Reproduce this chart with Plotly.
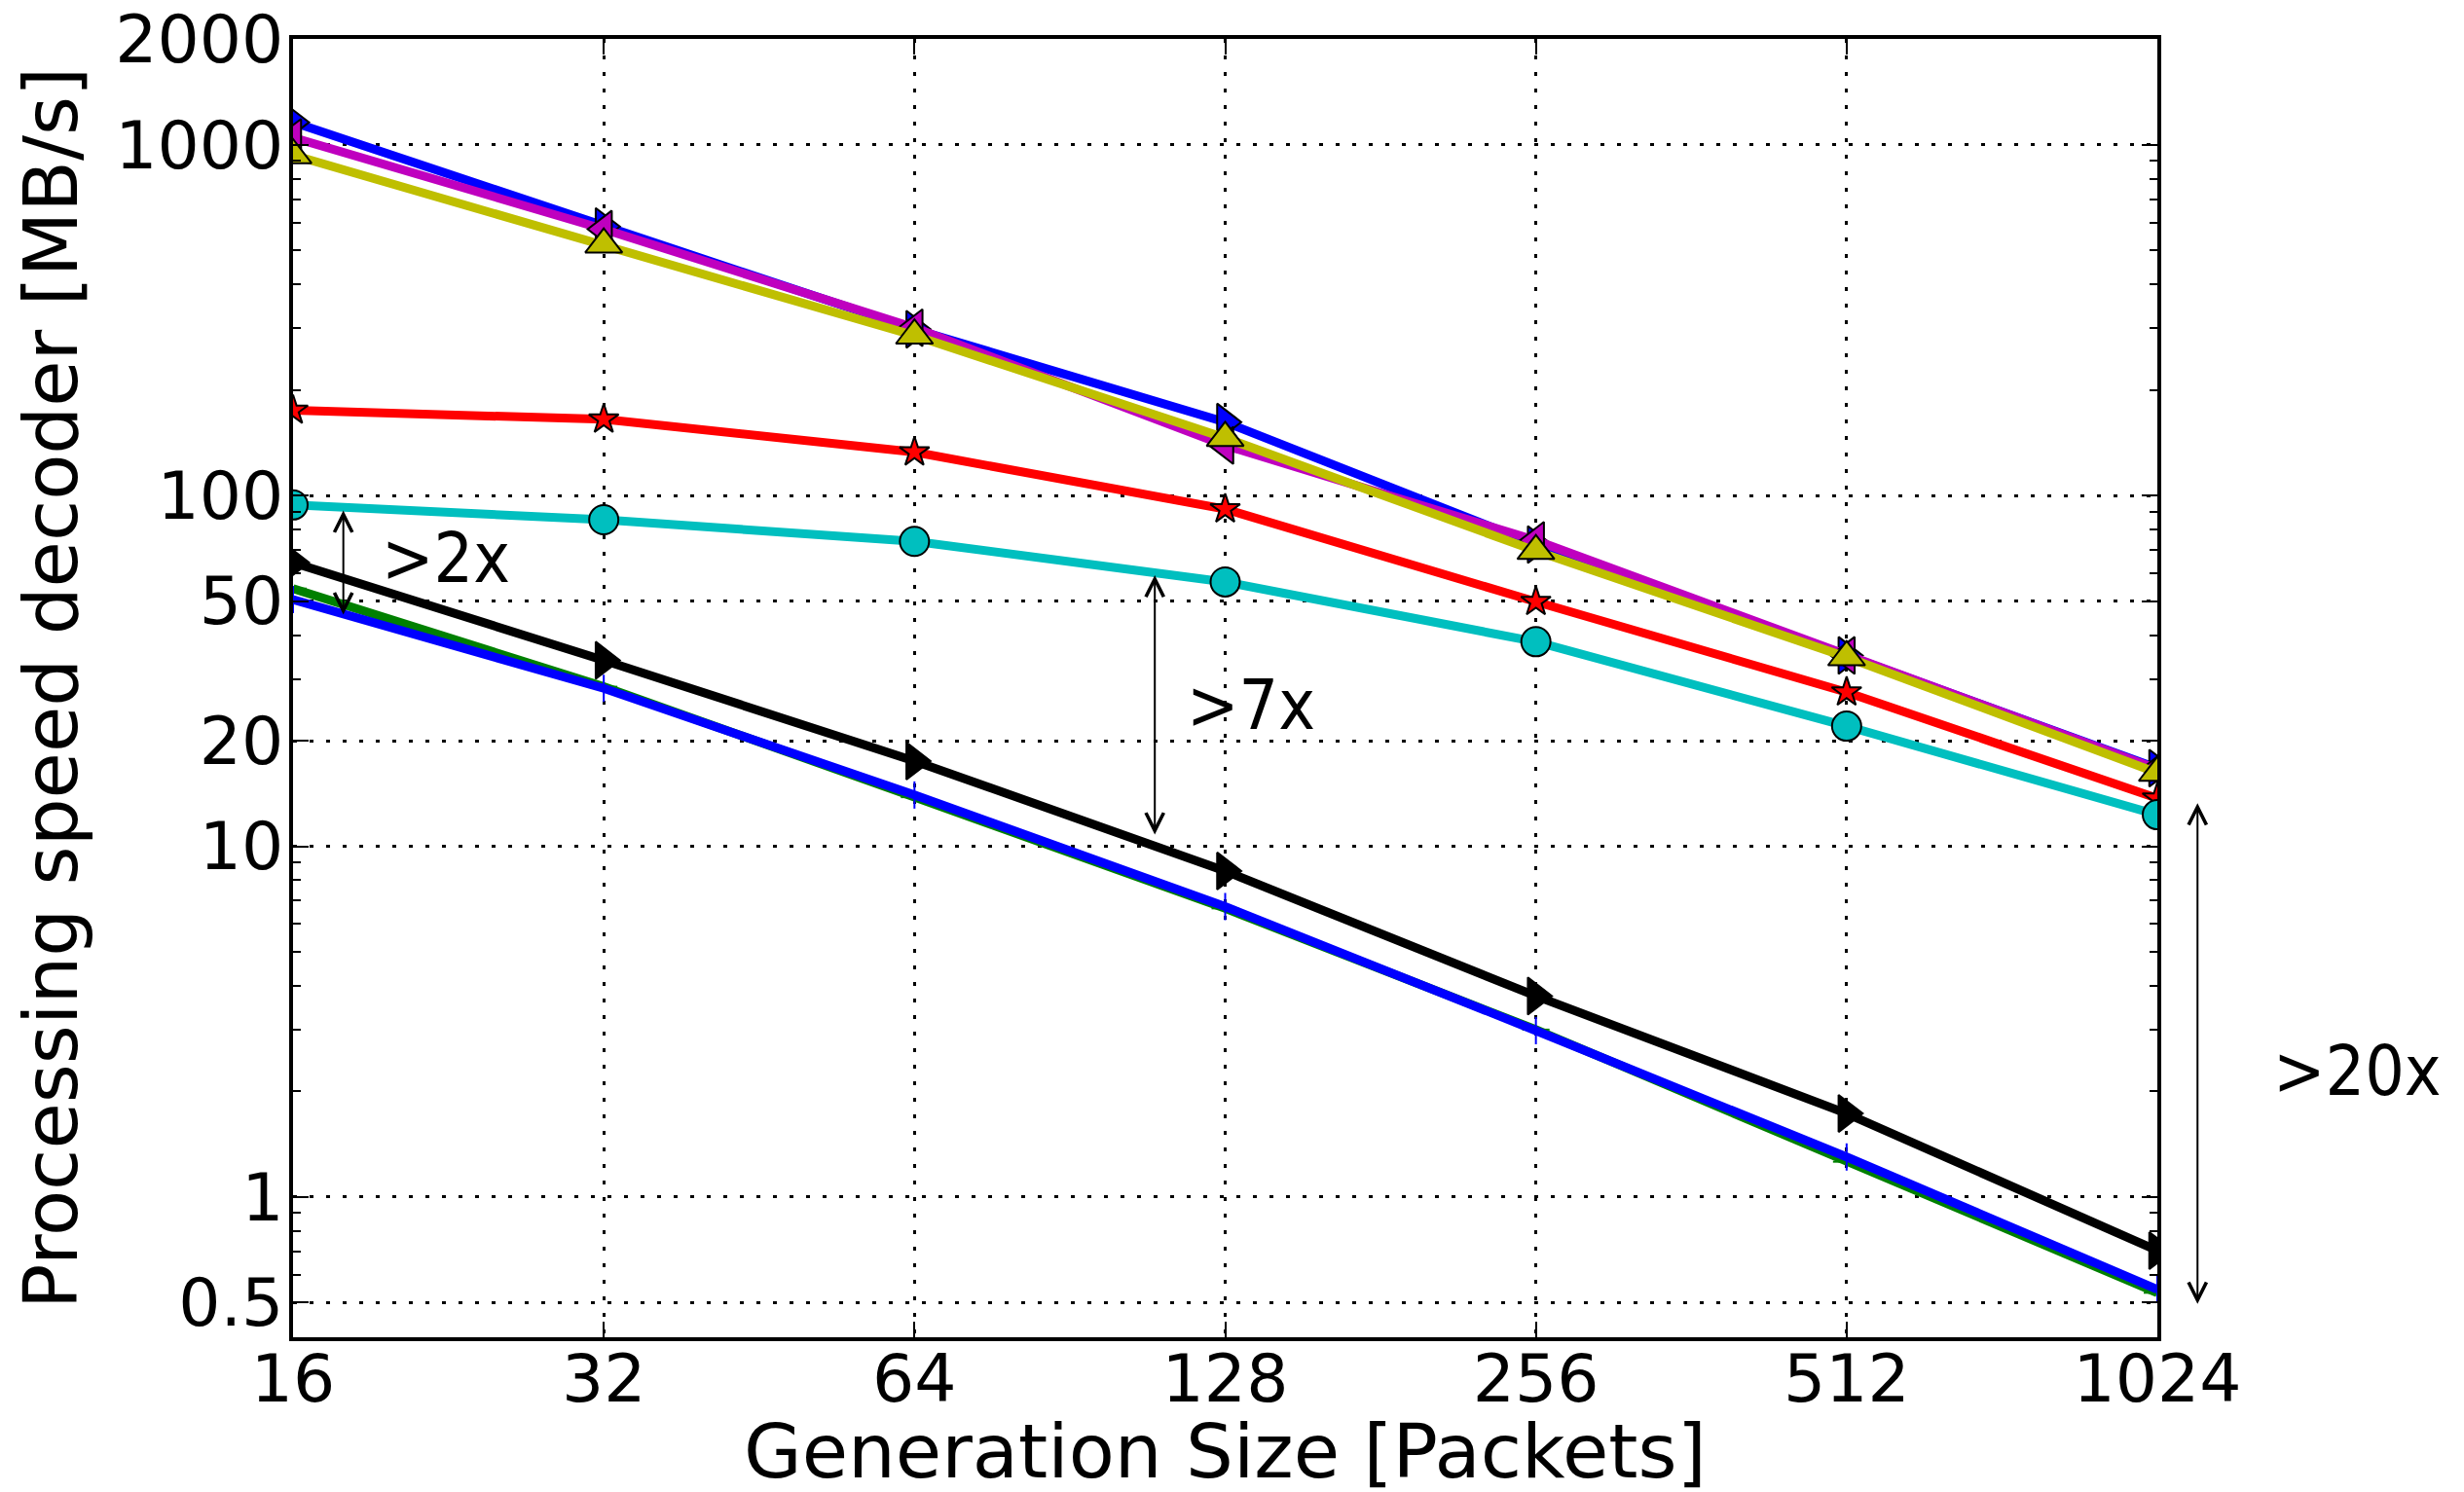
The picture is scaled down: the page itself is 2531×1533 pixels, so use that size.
import math
import plotly.graph_objects as go

# ---------------- data ----------------
gen_size = [16, 32, 64, 128, 256, 512, 1024]
x_tick_text = ["16", "32", "64", "128", "256", "512", "1024"]
y_tick_vals = [0.5, 1, 10, 20, 50, 100, 1000, 2000]
y_tick_text = ["0.5", "1", "10", "20", "50", "100", "1000", "2000"]

speed_blue_top = [1160, 585, 298, 162, 72.5, 35.0, 16.7]
speed_magenta = [1050, 575, 301, 139, 74.5, 35.0, 16.6]
speed_yellow = [935, 520, 286, 146, 69.5, 34.6, 16.2]
speed_red = [175, 165, 133, 91.5, 49.8, 27.5, 13.7]
speed_cyan = [94, 85.3, 74, 56.7, 38.3, 22.0, 12.3]
speed_black = [64.4, 33.9, 17.5, 8.5, 3.74, 1.73, 0.703]
speed_green = [54.3, 28.5, 13.8, 6.65, 3.0, 1.26, 0.533]
speed_blue_low = [50.5, 28.2, 14.0, 6.73, 2.98, 1.30, 0.545]

# annotations: double arrows (x, y_top, y_bottom) and label positions
arrow_labels = [">2x", ">7x", ">20x"]
arrow_x = [17.9, 109.4, 1120]
arrow_y_top = [91.5, 59.9, 13.4]
arrow_y_bottom = [45.8, 10.8, 0.495]
label_x = [22.5, 135.5, 1600]
label_y = [66.4, 25.3, 2.29]

x_title = "Generation Size [Packets]"
y_title = "Processing speed decoder [MB/s]"

y_min, y_max = 0.398, 2005

FONT = "DejaVu Sans"
ANN_FONT = "DejaVu Sans Condensed, DejaVu Sans"

series = [
    (speed_blue_top, "#0000ff", "triangle-right", 33),
    (speed_magenta, "#bf00bf", "triangle-left", 33),
    (speed_yellow, "#bfbf00", "triangle-up", 33),
    (speed_red, "#ff0000", "star", 23),
    (speed_cyan, "#00bfbf", "circle", 30),
    (speed_black, "#000000", "triangle-right", 33),
    (speed_green, "#008000", "line-ew", 20),
    (speed_blue_low, "#0000ff", "line-ns", 20),
]

fig = go.Figure()
for vals, col, sym, size in series:
    if sym.startswith("line-"):
        mline = dict(color=col, width=2)
    else:
        mline = dict(color="black", width=2)
    fig.add_trace(go.Scatter(
        x=gen_size, y=vals, mode="lines+markers",
        line=dict(color=col, width=9),
        marker=dict(symbol=sym, size=size, color=col, line=mline),
        showlegend=False, cliponaxis=True,
    ))

lx0, lx1 = math.log10(gen_size[0]), math.log10(gen_size[-1])


def paper_x(v):
    return (math.log10(v) - lx0) / (lx1 - lx0)


annotations = []
for i in range(len(arrow_labels)):
    xa = arrow_x[i]
    common = dict(text="", showarrow=True, arrowhead=5, startarrowhead=5,
                  arrowside="end+start", arrowwidth=2, arrowsize=1.8, startarrowsize=1.8,
                  arrowcolor="black", standoff=0, startstandoff=0)
    if xa <= gen_size[-1]:
        annotations.append(dict(
            x=math.log10(xa), y=math.log10(arrow_y_bottom[i]), xref="x", yref="y",
            ax=math.log10(xa), ay=math.log10(arrow_y_top[i]), axref="x", ayref="y",
            **common))
    else:
        annotations.append(dict(
            x=paper_x(xa), y=math.log10(arrow_y_bottom[i]), xref="paper", yref="y",
            ax=0, ay=math.log10(arrow_y_top[i]), axref="pixel", ayref="y",
            **common))
    tx = label_x[i]
    tfont = dict(family=ANN_FONT, size=71, color="black")
    if tx <= gen_size[-1]:
        annotations.append(dict(x=math.log10(tx), y=math.log10(label_y[i]), xref="x", yref="y",
                                xanchor="center", yanchor="middle",
                                text=arrow_labels[i], showarrow=False, font=tfont))
    else:
        annotations.append(dict(x=paper_x(tx), y=math.log10(label_y[i]), xref="paper", yref="y",
                                xanchor="center", yanchor="middle",
                                text=arrow_labels[i], showarrow=False, font=tfont))

# x-axis title placed as a paper annotation
annotations.append(dict(x=0.5, y=-0.088, xref="paper", yref="paper",
                        xanchor="center", yanchor="middle", showarrow=False,
                        text=x_title, font=dict(family=FONT, size=77, color="black")))

minor_vals = []
for e in range(-1, 4):
    for m in range(2, 10):
        v = m * 10 ** e
        if y_min <= v <= y_max:
            minor_vals.append(v)

fig.update_layout(
    width=2531, height=1533,
    margin=dict(l=301, r=315, t=40, b=159),
    paper_bgcolor="white", plot_bgcolor="white",
    font=dict(family=FONT, size=68, color="black"),
    annotations=annotations,
)

fig.update_xaxes(
    type="log", range=[lx0, lx1],
    tickvals=gen_size, ticktext=x_tick_text,
    ticks="inside", ticklen=16, tickwidth=2, tickcolor="black",
    ticklabelstandoff=-20, ticklabeloverflow="allow",
    showline=True, linewidth=4, linecolor="black", mirror="allticks",
    showgrid=True, gridcolor="black", gridwidth=2.5, griddash="4px,13px",
    zeroline=False, automargin=False,
    tickfont=dict(family=FONT, size=68, color="black"),
)
fig.update_yaxes(
    type="log", range=[math.log10(y_min), math.log10(y_max)],
    tickvals=y_tick_vals, ticktext=y_tick_text,
    ticks="inside", ticklen=16, tickwidth=2, tickcolor="black",
    ticklabelstandoff=-8, ticklabeloverflow="allow",
    showline=True, linewidth=4, linecolor="black", mirror="allticks",
    showgrid=True, gridcolor="black", gridwidth=2.5, griddash="4px,13px",
    zeroline=False, automargin=False,
    tickfont=dict(family=FONT, size=68, color="black"),
    minor=dict(tickvals=minor_vals, ticks="inside", ticklen=8, tickwidth=2,
               tickcolor="black", showgrid=False),
    title=dict(text=y_title, font=dict(family=FONT, size=77, color="black"), standoff=14),
)

# remove the default 8px page margin so the figure fills the window exactly
fig.write_html("out.html", config={"displayModeBar": False},
               post_script="document.body.style.margin='0px';")
